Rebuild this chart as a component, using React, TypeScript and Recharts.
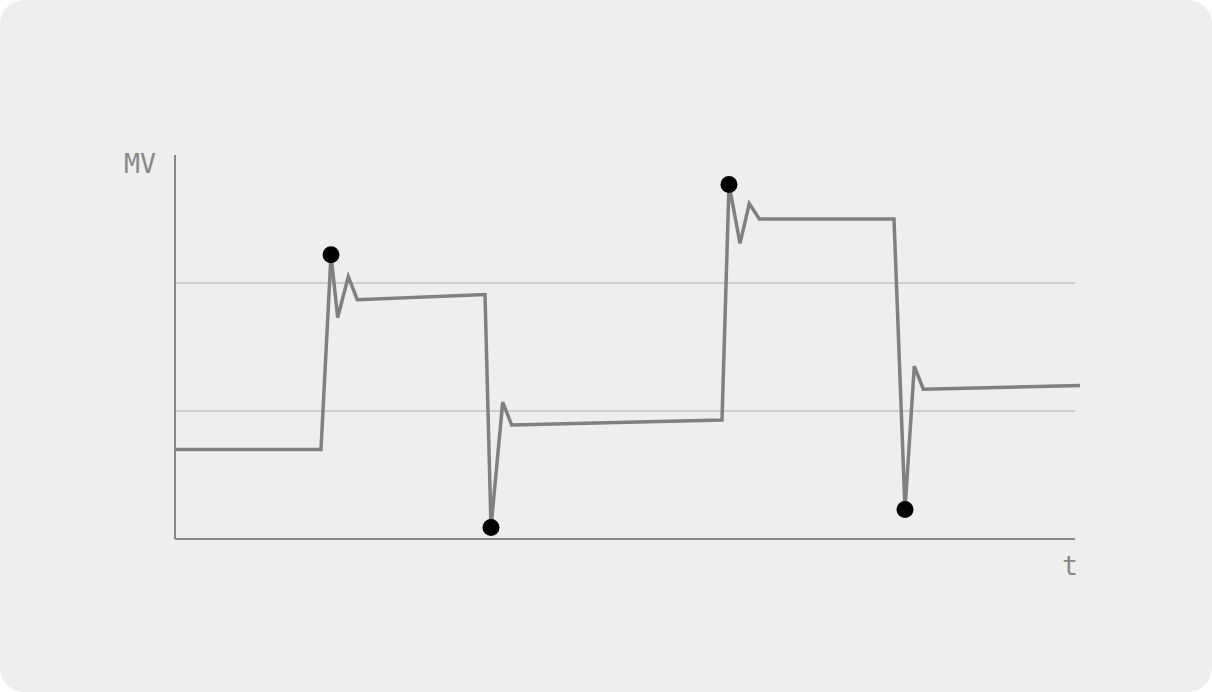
import { ComposedChart, Line, XAxis, YAxis, ReferenceLine } from 'recharts'

// time samples and process value (MV)
const tValues = [0, 146, 156, 162.7, 173.3, 182.3, 310, 316, 327.7, 336.7, 547, 554, 565, 574.3, 584.3, 719, 730, 739.3, 748.3, 905]
const mvValues = [0.7, 0.7, 2.22, 1.73, 2.05, 1.87, 1.91, 0.09, 1.07, 0.89, 0.93, 2.77, 2.31, 2.62, 2.5, 2.5, 0.23, 1.35, 1.17, 1.2]
// samples that carry a black marker (peaks and troughs)
const markedIndices = [2, 7, 11, 16]
const gridLevels = [1, 2]
const axisEnd = 900
const axisTop = 3

const data = tValues.map((t, i) => ({ t, mv: mvValues[i] }))

const renderDot = (props: any) => {
    const { cx, cy, index } = props
    if (!markedIndices.includes(index)) return <g key={`d-${index}`} />
    return <circle key={`d-${index}`} cx={cx} cy={cy} r={8.5} fill="#000" />
}

const labelStyle = {
    position: 'absolute' as const,
    fontFamily: '"DejaVu Sans Mono", monospace',
    fontSize: 26.5,
    color: '#888',
    lineHeight: '30px',
}

export default function App() {
    return (
        <div style={{ position: 'absolute', left: 0, top: 0, width: 1212, height: 692, background: '#fff' }}>
            <div
                style={{
                    position: 'absolute',
                    left: 0,
                    top: 0,
                    width: 1212,
                    height: 692,
                    background: '#eeeeee',
                    borderRadius: 24,
                }}
            >
                <ComposedChart
                    width={1212}
                    height={692}
                    data={data}
                    margin={{ top: 155, right: 132, bottom: 153, left: 175 }}
                >
                    <XAxis type="number" dataKey="t" domain={[0, 905]} hide />
                    <YAxis type="number" domain={[0, axisTop]} hide />
                    {gridLevels.map((lv) => (
                        <ReferenceLine
                            key={lv}
                            segment={[{ x: 0, y: lv }, { x: axisEnd, y: lv }]}
                            stroke="#cccccc"
                            strokeWidth={2}
                        />
                    ))}
                    <ReferenceLine
                        segment={[{ x: 0, y: 0 }, { x: axisEnd, y: 0 }]}
                        stroke="#888"
                        strokeWidth={2}
                    />
                    <ReferenceLine
                        segment={[{ x: 0, y: 0 }, { x: 0, y: axisTop }]}
                        stroke="#888"
                        strokeWidth={2}
                    />
                    <Line
                        type="linear"
                        dataKey="mv"
                        stroke="#808080"
                        strokeWidth={3.5}
                        dot={renderDot}
                        activeDot={false}
                        isAnimationActive={false}
                    />
                </ComposedChart>
                <span style={{ ...labelStyle, left: 124, top: 149 }}>MV</span>
                <span style={{ ...labelStyle, left: 1062, top: 551 }}>t</span>
            </div>
        </div>
    )
}
